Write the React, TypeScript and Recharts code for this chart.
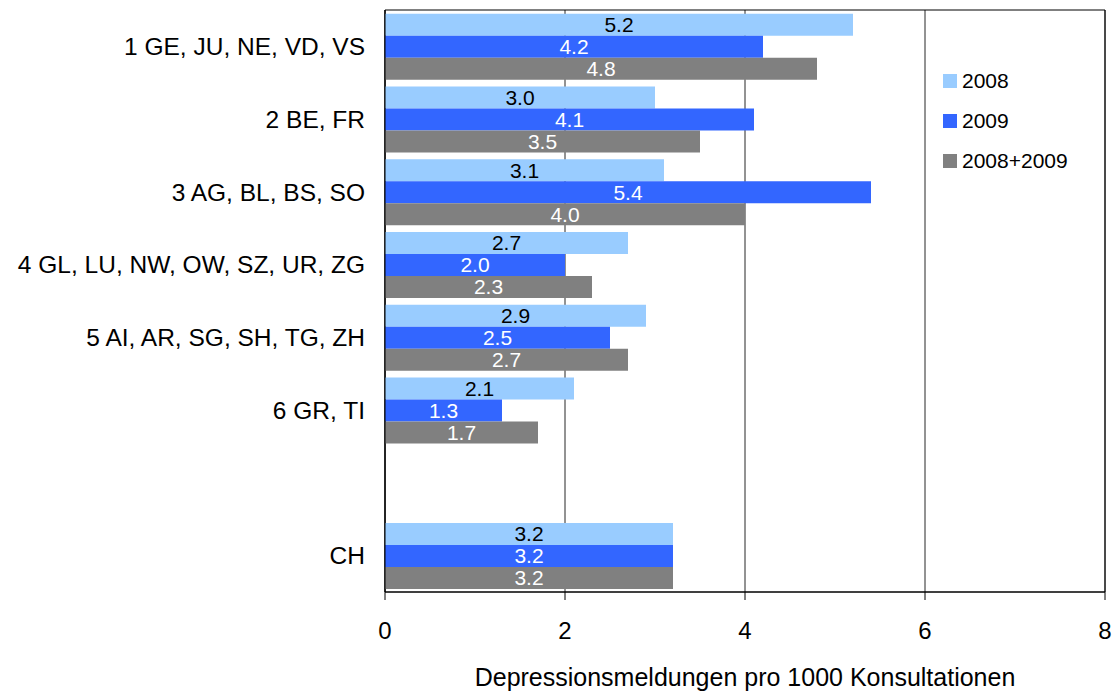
import React from "react";
import {
  BarChart,
  Bar,
  XAxis,
  YAxis,
  CartesianGrid,
  ReferenceArea,
  LabelList,
} from "recharts";

// Regions (the empty entry leaves a gap before the national total)
const regions = [
  "1 GE, JU, NE, VD, VS",
  "2 BE, FR",
  "3 AG, BL, BS, SO",
  "4 GL, LU, NW, OW, SZ, UR, ZG",
  "5 AI, AR, SG, SH, TG, ZH",
  "6 GR, TI",
  "",
  "CH",
];

const values2008 = [5.2, 3.0, 3.1, 2.7, 2.9, 2.1, null, 3.2];
const values2009 = [4.2, 4.1, 5.4, 2.0, 2.5, 1.3, null, 3.2];
const valuesBoth = [4.8, 3.5, 4.0, 2.3, 2.7, 1.7, null, 3.2];

const xTicks = [0, 2, 4, 6, 8];

const series = [
  { key: "y2008", name: "2008", color: "#99CCFF", labelColor: "#000" },
  { key: "y2009", name: "2009", color: "#3366FF", labelColor: "#fff" },
  { key: "both", name: "2008+2009", color: "#808080", labelColor: "#fff" },
];

const data = regions.map((name, i) => ({
  name,
  y2008: values2008[i],
  y2009: values2009[i],
  both: valuesBoth[i],
}));

const FONT = "'Liberation Sans', Arial, sans-serif";
const W = 1112;
const H = 695;

// legend sits inside the plot frame, to the right of the bars
function LegendBox() {
  return (
    <div
      style={{
        position: "absolute",
        left: 943,
        top: 61,
        fontFamily: FONT,
        fontSize: 21,
        color: "#000",
      }}
    >
      {series.map((s) => (
        <div key={s.key} style={{ display: "flex", alignItems: "center", height: 40 }}>
          <span style={{ width: 14, height: 14, background: s.color, marginRight: 5 }} />
          <span>{s.name}</span>
        </div>
      ))}
    </div>
  );
}

export default function App() {
  // fixed to the viewport so the chart never triggers page scrollbars
  return (
    <div style={{ position: "fixed", left: 0, top: 0, width: W, height: H, background: "#fff", fontFamily: FONT }}>
      <BarChart
        width={W}
        height={H}
        data={data}
        layout="vertical"
        margin={{ top: 10, right: 7, bottom: 0, left: 0 }}
        barGap={0}
        barCategoryGap="5%"
      >
        <CartesianGrid horizontal={false} stroke="#000" strokeOpacity={0.85} />
        <ReferenceArea x1={0} x2={8} stroke="#000" fill="none" fillOpacity={0} ifOverflow="visible" />
        <XAxis
          type="number"
          domain={[0, 8]}
          ticks={xTicks}
          stroke="#000"
          tickSize={8}
          tickMargin={22}
          height={103}
          tick={{ fill: "#000", fontSize: 24, fontFamily: FONT }}
          label={{
            value: "Depressionsmeldungen pro 1000 Konsultationen",
            position: "insideBottom",
            offset: 9,
            fill: "#000",
            fontSize: 25,
            fontFamily: FONT,
          }}
        />
        <YAxis
          type="category"
          dataKey="name"
          width={385}
          stroke="#000"
          tickLine={false}
          tickSize={0}
          tickMargin={20}
          interval={0}
          tick={{ fill: "#000", fontSize: 24.5, fontFamily: FONT }}
        />
        {series.map((s) => (
          <Bar key={s.key} dataKey={s.key} name={s.name} fill={s.color} isAnimationActive={false}>
            <LabelList
              dataKey={s.key}
              position="center"
              fill={s.labelColor}
              fontSize={21}
              fontFamily={FONT}
              formatter={(v: any) => (v == null ? "" : Number(v).toFixed(1))}
            />
          </Bar>
        ))}
      </BarChart>
      <LegendBox />
    </div>
  );
}
